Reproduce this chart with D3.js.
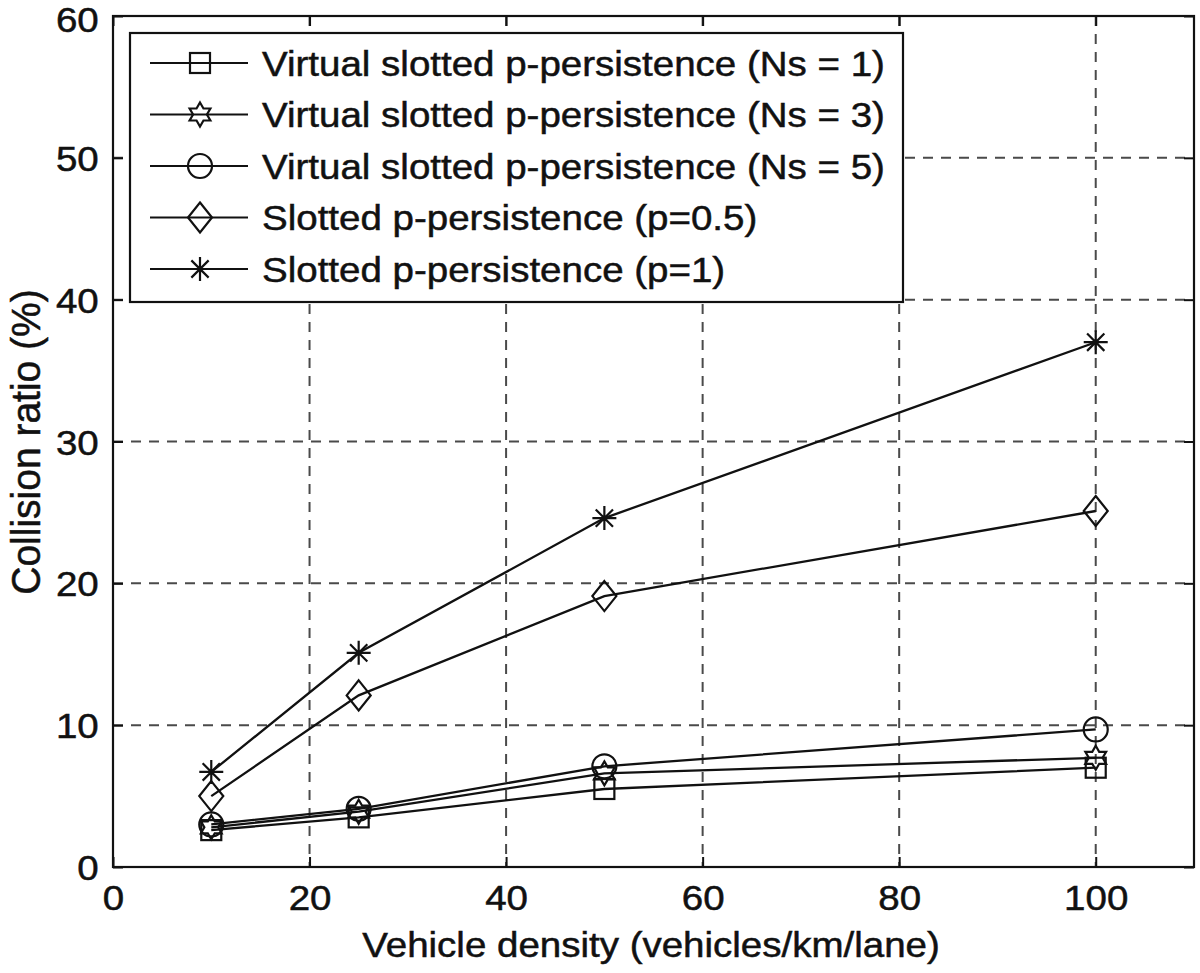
<!DOCTYPE html>
<html>
<head>
<meta charset="utf-8">
<script src="https://cdn.jsdelivr.net/npm/d3@7"></script>
<style>
  html, body { margin: 0; padding: 0; background: #fff; }
  svg { display: block; }
  text { font-family: "Liberation Sans", Arial, Helvetica, sans-serif; fill: #111; stroke: #111; stroke-width: 0.5px; }
</style>
</head>
<body>
<svg id="chart" width="1200" height="973"></svg>
<script>
// ---------------- data ----------------
const xValues = [10, 25, 50, 100];
const seriesNames = [
  "Virtual slotted p-persistence (Ns = 1)",
  "Virtual slotted p-persistence (Ns = 3)",
  "Virtual slotted p-persistence (Ns = 5)",
  "Slotted p-persistence (p=0.5)",
  "Slotted p-persistence (p=1)"
];
const seriesMarkers = ["square", "hexagram", "circle", "diamond", "asterisk"];
const valuesNs1 = [2.6, 3.5, 5.5, 7.0];
const valuesNs3 = [2.8, 3.9, 6.6, 7.7];
const valuesNs5 = [3.0, 4.1, 7.1, 9.7];
const valuesP05 = [5.0, 12.1, 19.1, 25.1];
const valuesP1  = [6.7, 15.1, 24.6, 37.0];
const xTicks = [0, 20, 40, 60, 80, 100];
const yTicks = [0, 10, 20, 30, 40, 50, 60];
const xLabel = "Vehicle density (vehicles/km/lane)";
const yLabel = "Collision ratio (%)";

const seriesValues = [valuesNs1, valuesNs3, valuesNs5, valuesP05, valuesP1];

// ---------------- layout ----------------
const L = 113, R = 1194, T = 16, B = 867;
const x = d3.scaleLinear().domain([0, 110]).range([L, R]);
const y = d3.scaleLinear().domain([0, 60]).range([B, T]);
const INK = "#111";
const SX = 1.1; // horizontal glyph stretch seen in the reference

const svg = d3.select("#chart");

// grid
const grid = svg.append("g");
grid.selectAll("line.gx").data(xTicks.filter(v => v > 0 && v < 110)).join("line")
  .attr("x1", d => x(d)).attr("x2", d => x(d)).attr("y1", T).attr("y2", B)
  .attr("stroke", "#4a4a4a").attr("stroke-width", 2).attr("stroke-dasharray", "10,8");
grid.selectAll("line.gy").data(yTicks.filter(v => v > 0 && v < 60)).join("line")
  .attr("x1", L).attr("x2", R).attr("y1", d => y(d)).attr("y2", d => y(d))
  .attr("stroke", "#4a4a4a").attr("stroke-width", 2).attr("stroke-dasharray", "10,8");

// axes (inward ticks on all four sides)
const TK = 10;
const axB = svg.append("g").attr("transform", `translate(0,${B})`)
  .call(d3.axisBottom(x).tickValues(xTicks).tickSizeInner(-TK).tickSizeOuter(0).tickPadding(18));
const axT = svg.append("g").attr("transform", `translate(0,${T})`)
  .call(d3.axisTop(x).tickValues(xTicks).tickSizeInner(-TK).tickSizeOuter(0).tickFormat(""));
const axL = svg.append("g").attr("transform", `translate(${L},0)`)
  .call(d3.axisLeft(y).tickValues(yTicks).tickSizeInner(-TK).tickSizeOuter(0).tickPadding(13));
const axR = svg.append("g").attr("transform", `translate(${R},0)`)
  .call(d3.axisRight(y).tickValues(yTicks).tickSizeInner(-TK).tickSizeOuter(0).tickFormat(""));
[axB, axT, axL, axR].forEach(a => {
  a.select(".domain").remove();
  a.selectAll(".tick line").attr("stroke", INK).attr("stroke-width", 2);
  a.selectAll(".tick text").attr("font-size", 35).attr("fill", INK)
    .style("font-family", '"Liberation Sans", Arial, sans-serif');
});
axB.selectAll(".tick text").attr("transform", `scale(${SX},1)`);
axL.selectAll(".tick text").attr("transform", `scale(${SX},1)`)
  .attr("dy", d => d === 60 ? "0.45em" : "0.36em");

// frame
svg.append("rect").attr("x", L).attr("y", T).attr("width", R - L).attr("height", B - T)
  .attr("fill", "none").attr("stroke", INK).attr("stroke-width", 2.2);

// marker drawing
function hexagramPath(r) {
  const pts = [];
  for (let i = 0; i < 12; i++) {
    const a = -Math.PI / 2 + i * Math.PI / 6;
    const rr = i % 2 === 0 ? r : r / Math.sqrt(3);
    pts.push([rr * Math.cos(a), rr * Math.sin(a)]);
  }
  return "M" + pts.map(p => p.join(",")).join("L") + "Z";
}
function drawMarker(g, type, cx, cy) {
  const s = g.append("g").attr("transform", `translate(${cx},${cy})`)
    .attr("fill", "none").attr("stroke", INK).attr("stroke-width", 2.2);
  if (type === "square") {
    s.append("rect").attr("x", -10).attr("y", -10).attr("width", 20).attr("height", 20);
  } else if (type === "circle") {
    s.append("circle").attr("r", 12);
  } else if (type === "diamond") {
    s.append("path").attr("d", "M0,-15L12,0L0,15L-12,0Z");
  } else if (type === "hexagram") {
    s.append("path").attr("d", hexagramPath(12));
  } else if (type === "asterisk") {
    const r = 12, d = r * 0.72;
    s.append("path").attr("d",
      `M${-r},0L${r},0M0,${-r}L0,${r}M${-d},${-d}L${d},${d}M${-d},${d}L${d},${-d}`);
  }
}

// series
const line = d3.line().x(d => x(d[0])).y(d => y(d[1]));
const plot = svg.append("g");
seriesValues.forEach((vals, i) => {
  const pts = xValues.map((xv, j) => [xv, vals[j]]);
  plot.append("path").datum(pts).attr("d", line)
    .attr("fill", "none").attr("stroke", INK).attr("stroke-width", 2.3);
  pts.forEach(p => drawMarker(plot, seriesMarkers[i], x(p[0]), y(p[1])));
});

// legend
const lg = svg.append("g");
const LX0 = 130, LY0 = 33, LX1 = 903, LY1 = 302;
lg.append("rect").attr("x", LX0).attr("y", LY0).attr("width", LX1 - LX0).attr("height", LY1 - LY0)
  .attr("fill", "#fff").attr("stroke", INK).attr("stroke-width", 2.2);
const rowY = d3.scalePoint().domain(d3.range(seriesNames.length)).range([63, 269]);
seriesNames.forEach((name, i) => {
  const yy = rowY(i);
  lg.append("line").attr("x1", 150).attr("x2", 248).attr("y1", yy).attr("y2", yy)
    .attr("stroke", INK).attr("stroke-width", 2.2);
  drawMarker(lg, seriesMarkers[i], 200, yy);
  lg.append("g").attr("transform", `translate(262,${yy + 12.5}) scale(${SX},1)`)
    .append("text").attr("font-size", 35).text(name);
});

// axis labels
svg.append("g").attr("transform", `translate(651,957) scale(${SX},1)`)
  .append("text").attr("text-anchor", "middle").attr("font-size", 35).text(xLabel);
svg.append("g").attr("transform", `translate(40,442) rotate(-90) scale(1,1.05)`)
  .append("text").attr("text-anchor", "middle").attr("font-size", 39).text(yLabel);
</script>
</body>
</html>
